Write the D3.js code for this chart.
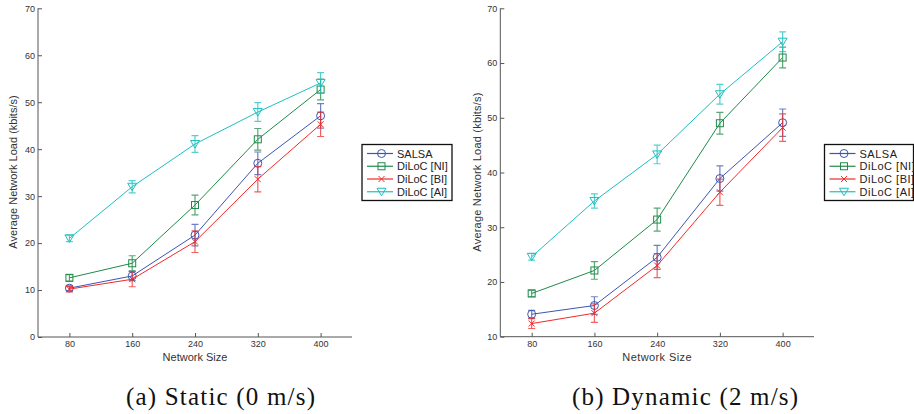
<!DOCTYPE html>
<html><head><meta charset="utf-8">
<script src="https://cdn.jsdelivr.net/npm/d3@7"></script>
<style>
html,body{margin:0;padding:0;background:#fff;}
svg{display:block;}
</style></head>
<body>
<svg id="c" width="914" height="414" font-family="Liberation Sans, Arial, sans-serif"></svg>
<script>
// ---- data ----
const networkSizes = [80, 160, 240, 320, 400];
const seriesNames = ["SALSA", "DiLoC [NI]", "DiLoC [BI]", "DiLoC [AI]"];
const seriesKeys = ["salsa", "ni", "bi", "ai"];

// Static (0 m/s)
const staticSALSA = [10.4, 13.0, 21.7, 37.0, 47.1];
const staticSALSAErr = [0.5, 1.0, 2.3, 2.4, 2.6];
const staticNI = [12.6, 15.7, 28.1, 42.1, 52.7];
const staticNIErr = [0.7, 1.6, 2.1, 2.3, 2.2];
const staticBI = [10.2, 12.3, 20.3, 33.6, 45.3];
const staticBIErr = [0.6, 1.6, 2.3, 2.7, 2.6];
const staticAI = [21.0, 32.0, 41.1, 47.9, 54.1];
const staticAIErr = [0.7, 1.3, 1.8, 2.0, 2.2];

// Dynamic (2 m/s)
const dynSALSA = [14.1, 15.7, 24.5, 38.9, 49.1];
const dynSALSAErr = [0.7, 1.6, 2.2, 2.3, 2.5];
const dynNI = [17.9, 22.1, 31.4, 49.0, 61.0];
const dynNIErr = [0.6, 1.6, 2.1, 2.0, 1.9];
const dynBI = [12.4, 14.3, 23.0, 36.4, 48.2];
const dynBIErr = [0.9, 1.7, 2.2, 2.4, 2.5];
const dynAI = [24.6, 34.8, 43.3, 54.3, 63.9];
const dynAIErr = [0.6, 1.3, 1.7, 1.8, 1.8];

const staticYTicks = [0, 10, 20, 30, 40, 50, 60, 70];
const dynYTicks = [10, 20, 30, 40, 50, 60, 70];
const xLabel = "Network Size";
const yLabel = "Average Network Load (kbits/s)";
const captions = ["(a) Static (0 m/s)", "(b) Dynamic (2 m/s)"];

const colors = {salsa: "#3d55b0", ni: "#1f8a4a", bi: "#f02a2a", ai: "#1fbfbf"};

const svg = d3.select("#c");

function marker(g, key, cx, cy, col) {
  if (key === "salsa") {
    g.append("circle").attr("cx", cx).attr("cy", cy).attr("r", 4)
      .attr("fill", "none").attr("stroke", col).attr("stroke-width", 1);
  } else if (key === "ni") {
    g.append("rect").attr("x", cx - 3.5).attr("y", cy - 3.5).attr("width", 7).attr("height", 7)
      .attr("fill", "none").attr("stroke", col).attr("stroke-width", 1);
  } else if (key === "bi") {
    g.append("path").attr("d", `M${cx-3},${cy-3}L${cx+3},${cy+3}M${cx-3},${cy+3}L${cx+3},${cy-3}`)
      .attr("stroke", col).attr("stroke-width", 1).attr("fill", "none");
  } else {
    g.append("path").attr("d", `M${cx-4.5},${cy-3.5}L${cx+4.5},${cy-3.5}L${cx},${cy+4}Z`)
      .attr("fill", "none").attr("stroke", col).attr("stroke-width", 1);
  }
}

function drawChart(opts) {
  const {xr, yDomain, yr, yTicks, data, errs, legendX, caption, capX, capW, labelX, spacedText} = opts;
  const g = svg.append("g");
  const x = d3.scaleLinear().domain([40, 440]).range(xr);
  const y = d3.scaleLinear().domain(yDomain).range(yr);

  const xa = g.append("g").attr("transform", `translate(0,${yr[0]})`)
    .call(d3.axisBottom(x).tickValues(networkSizes).tickSizeInner(-4).tickSizeOuter(0).tickPadding(4));
  const ya = g.append("g").attr("transform", `translate(${xr[0]},0)`)
    .call(d3.axisLeft(y).tickValues(yTicks).tickSizeInner(-4).tickSizeOuter(0).tickPadding(3));
  [xa, ya].forEach(a => {
    a.select(".domain").attr("stroke", "#555").attr("stroke-width", 1);
    a.selectAll(".tick line").attr("stroke", "#555");
    a.selectAll(".tick text").attr("font-size", 9).attr("fill", "#333")
      .attr("font-family", "Liberation Sans, Arial, sans-serif");
  });
  xa.select(".domain").attr("d", `M${xr[0]},0H${xr[1]}`);
  ya.select(".domain").attr("d", `M0,${yr[0]}V${yr[1]}`);

  g.append("text").attr("x", (xr[0] + xr[1]) / 2).attr("y", 361).attr("text-anchor", "middle")
    .attr("font-size", 11).attr("fill", "#333").attr("letter-spacing", spacedText ? 0.4 : 0).text(xLabel);
  g.append("text").attr("transform", `translate(${labelX},172) rotate(-90)`).attr("text-anchor", "middle")
    .attr("font-size", 11).attr("fill", "#333").attr("letter-spacing", spacedText ? 0.2 : 0).text(yLabel);

  const line = d3.line().x((d, i) => x(networkSizes[i])).y(d => y(d));
  seriesKeys.forEach((k, si) => {
    const col = colors[k];
    const sg = g.append("g");
    sg.append("path").datum(data[si]).attr("d", line).attr("fill", "none")
      .attr("stroke", col).attr("stroke-width", 1);
    data[si].forEach((v, i) => {
      const cx = x(networkSizes[i]);
      const e = errs[si][i];
      const y1 = y(v - e), y2 = y(v + e);
      sg.append("path").attr("d", `M${cx},${y1}V${y2}M${cx-3.5},${y1}H${cx+3.5}M${cx-3.5},${y2}H${cx+3.5}`)
        .attr("stroke", col).attr("stroke-width", 1.2).attr("stroke-opacity", 0.75).attr("fill", "none");
      marker(sg, k, cx, y(v), col);
    });
  });

  const lg = g.append("g");
  const lw = opts.legendW;
  lg.append("rect").attr("x", legendX).attr("y", 144.5).attr("width", lw).attr("height", 56)
    .attr("fill", "#fff").attr("stroke", "#111").attr("stroke-width", 1.3);
  seriesNames.forEach((name, i) => {
    const ry = 153.5 + i * 12.75;
    const col = colors[seriesKeys[i]];
    lg.append("line").attr("x1", legendX + 5).attr("x2", legendX + 31).attr("y1", ry).attr("y2", ry)
      .attr("stroke", col).attr("stroke-width", 1.2);
    marker(lg, seriesKeys[i], legendX + 19.5, ry, col);
    lg.append("text").attr("x", legendX + 35).attr("y", ry + 4).attr("font-size", 11).attr("fill", "#222")
      .attr("letter-spacing", spacedText ? 0.5 : 0).text(name);
  });

  svg.append("text").attr("x", capX).attr("y", 405).attr("text-anchor", "middle")
    .attr("font-family", "Liberation Serif").attr("font-size", 25)
    .attr("textLength", capW).attr("lengthAdjust", "spacing")
    .attr("fill", "#111").text(caption);
}

drawChart({xr: [38, 352], yDomain: [0, 70], yr: [337, 8.3], yTicks: staticYTicks,
  data: [staticSALSA, staticNI, staticBI, staticAI],
  errs: [staticSALSAErr, staticNIErr, staticBIErr, staticAIErr],
  legendX: 362, legendW: 90, caption: captions[0], capX: 220.5, capW: 189, labelX: 17, spacedText: false});

drawChart({xr: [500.3, 814], yDomain: [10, 70], yr: [336.7, 8.3], yTicks: dynYTicks,
  data: [dynSALSA, dynNI, dynBI, dynAI],
  errs: [dynSALSAErr, dynNIErr, dynBIErr, dynAIErr],
  legendX: 824.5, legendW: 89, caption: captions[1], capX: 685, capW: 226, labelX: 481, spacedText: true});
</script>
</body></html>
